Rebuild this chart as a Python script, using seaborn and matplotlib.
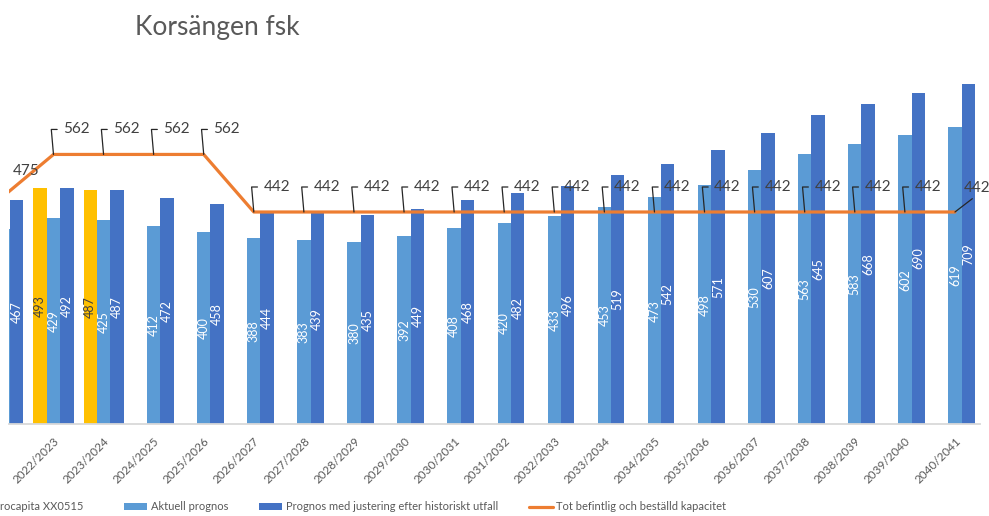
import matplotlib
matplotlib.use("Agg")
import matplotlib.pyplot as plt
import seaborn as sns
import pandas as pd
import numpy as np
from matplotlib.patches import Patch
from matplotlib.lines import Line2D

# ---------------- data ----------------
categories = ["2021/2022", "2022/2023", "2023/2024", "2024/2025", "2025/2026", "2026/2027",
              "2027/2028", "2028/2029", "2029/2030", "2030/2031", "2031/2032", "2032/2033",
              "2033/2034", "2034/2035", "2035/2036", "2036/2037", "2037/2038", "2038/2039",
              "2039/2040", "2040/2041"]
per_capita = [np.nan, 493, 487] + [np.nan] * 17
aktuell = [407, 429, 425, 412, 400, 388, 383, 380, 392, 408, 420, 433, 453, 473, 498,
           530, 563, 583, 602, 619]
justerad = [467, 492, 487, 472, 458, 444, 439, 435, 449, 468, 482, 496, 519, 542, 571,
            607, 645, 668, 690, 709]
kapacitet = [475, 562, 562, 562, 562] + [442] * 15

series_names = ["rocapita XX0515", "Aktuell prognos",
                "Prognos med justering efter historiskt utfall"]
line_name = "Tot befintlig och beställd kapacitet"
title = "Korsängen fsk"

colors = ["#FFC000", "#5B9BD5", "#4472C4"]
line_color = "#ED7D31"

df = pd.DataFrame({
    "kategori": categories * 3,
    "serie": [series_names[0]] * len(categories) + [series_names[1]] * len(categories)
             + [series_names[2]] * len(categories),
    "varde": per_capita + aktuell + justerad,
}).dropna()

# ---------------- figure ----------------
sns.set_theme(style="white")
plt.rcParams["font.family"] = ["Lato", "DejaVu Sans"]

W, H = 989, 516
fig = plt.figure(figsize=(W / 100, H / 100), dpi=100)
ax_left, ax_right, ax_bottom, ax_top = 9, 980, 424, 60
ax = fig.add_axes([ax_left / W, (H - ax_bottom) / H,
                   (ax_right - ax_left) / W, (ax_bottom - ax_top) / H])

sns.barplot(data=df, x="kategori", y="varde", hue="serie", order=categories,
            hue_order=series_names, palette=colors, saturation=1, width=0.8,
            linewidth=0, legend=False, ax=ax, errorbar=None)

xpos = np.arange(len(categories))
sns.lineplot(x=xpos, y=kapacitet, color=line_color, linewidth=2.3, ax=ax,
             legend=False)

ymax = (ax_bottom - ax_top) / ((ax_bottom - 212) / 442)
ax.set_ylim(0, ymax)
# left side of the chart is cut off
px_per_cat = 50.08
first_center = 3.4
xmin = (ax_left - first_center) / px_per_cat
ax.set_xlim(xmin, 19.5)

# bar labels (only for bars whose centre is visible)
label_colors = ["#404040", "white", "white"]
for cont, lc in zip(ax.containers, label_colors):
    vals = []
    for bar, v in zip(cont.patches, cont.datavalues):
        cx = bar.get_x() + bar.get_width() / 2
        if np.isfinite(v) and v > 0 and cx > xmin:
            vals.append(f"{v:.0f}")
        else:
            vals.append("")
    ax.bar_label(cont, labels=vals, label_type="center", rotation=90,
                 color=lc, fontsize=9)

# line data labels with leader lines
for i, v in enumerate(kapacitet):
    last = i == len(kapacitet) - 1
    if last:
        ann = ax.annotate(str(v), xy=(i, v), xytext=(6, 17), textcoords="offset points",
                          ha="left", va="center", fontsize=11, color="#404040",
                          annotation_clip=False,
                          arrowprops=dict(arrowstyle="-", color="#262626", lw=0.9,
                                          shrinkA=0, shrinkB=0, relpos=(0.5, 0.0)))
    else:
        ann = ax.annotate(str(v), xy=(i, v), xytext=(7, 18), textcoords="offset points",
                          ha="left", va="center", fontsize=11, color="#404040",
                          annotation_clip=False,
                          arrowprops=dict(arrowstyle="-", color="#262626", lw=0.9,
                                          shrinkA=2, shrinkB=0, relpos=(0, 0.5),
                                          connectionstyle="angle,angleA=0,angleB=95,rad=0"))
    ann.arrow_patch.set_clip_box(ax.bbox)
    ann.arrow_patch.set_clip_on(True)

# axes styling
for s in ["left", "right", "top"]:
    ax.spines[s].set_visible(False)
ax.spines["bottom"].set_color("#D9D9D9")
ax.spines["bottom"].set_linewidth(1.3)
ax.set_yticks([])
ax.set_xlabel("")
ax.set_ylabel("")
ax.tick_params(axis="x", length=0, pad=8, labelsize=8.5, labelcolor="#595959")
for lab in ax.get_xticklabels():
    lab.set_rotation(45)
    lab.set_ha("right")
    lab.set_rotation_mode("anchor")

# title
fig.text(135 / W, 1 - 28 / H, title, fontsize=19, color="#595959", ha="left", va="center")

# legend (first entry cut off at the left edge)
handles = [Patch(facecolor=colors[1], edgecolor="none"),
           Patch(facecolor=colors[2], edgecolor="none"),
           Line2D([0], [0], color=line_color, lw=2.3)]
fig.legend(handles, [series_names[1], series_names[2], line_name],
           loc="center left", bbox_to_anchor=(124 / W, 1 - 507 / H), ncol=3,
           frameon=False, fontsize=8, handlelength=2.1, handleheight=0.6,
           handletextpad=0.3, columnspacing=2.8, borderpad=0, borderaxespad=0,
           labelcolor="#595959")
fig.text(0, 1 - 507 / H, series_names[0], fontsize=8, color="#595959",
         ha="left", va="center")

fig.savefig("out.png", dpi=100)
